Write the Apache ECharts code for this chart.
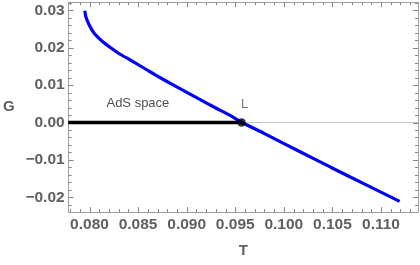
<!DOCTYPE html>
<html>
<head>
<meta charset="utf-8">
<script src="https://cdn.jsdelivr.net/npm/echarts@6/dist/echarts.min.js"></script>
<style>
html,body{margin:0;padding:0;background:#fff;}
#chart{width:420px;height:265px;}
</style>
</head>
<body>
<div id="chart"></div>
<script>
// ---- data ----
const blueT = [0.07952,0.07962,0.07997,0.08048,0.08133,0.08218,0.08320,0.08439,0.08610,0.08779,0.08950,0.09121,0.09290,0.09461,0.09570,0.09801,0.10142,0.10482,0.10822,0.11192];
const blueG = [0.02989,0.02829,0.02607,0.02385,0.02166,0.02000,0.01818,0.01644,0.01377,0.01123,0.00877,0.00636,0.00401,0.00168,0.0,-0.00297,-0.00749,-0.01195,-0.01636,-0.02110];
const adsT = [0.0778, 0.09565];
const adsG = [0, 0];
const pointL = [0.09565, 0];
const labelL = 'L';
const adsText = 'AdS space';
const adsTextPos = [0.08498, 0.0051];
const xMajor = [0.080,0.085,0.090,0.095,0.100,0.105,0.110];
const yMajor = [-0.02,-0.01,0.00,0.01,0.02,0.03];
const xRange = [0.077855, 0.11381];
const yRange = [-0.02393, 0.032219];

// minor ticks (every 0.001 on T, 0.002 on G), excluding majors
const xMinor = [];
for (let i = 78; i <= 113; i++) { if (i % 5 !== 0) xMinor.push(i / 1000); }
const yMinor = [];
for (let i = -22; i <= 32; i += 2) { if (i % 10 !== 0) yMinor.push(i / 1000); }

const frameColor = '#a0a0a0';
const tickColor = '#888888';
const labelColor = '#5f5f5f';
const fontFam = 'Liberation Sans, Arial, sans-serif';

function xAx(pos, labels) {
  return {
    type: 'value', position: pos, min: xRange[0], max: xRange[1],
    axisLine: {show: true, onZero: false, lineStyle: {color: frameColor, width: 1}},
    axisTick: {show: false},
    axisLabel: labels ? {show: true, customValues: xMajor, formatter: v => v.toFixed(3), color: labelColor, fontSize: 15.5, fontWeight: 'bold', fontFamily: fontFam, margin: 5} : {show: false},
    splitLine: {show: false},
    name: labels ? 'T' : '', nameLocation: 'middle', nameGap: 31,
    nameTextStyle: {color: labelColor, fontSize: 15, fontWeight: 'bold', fontFamily: fontFam}
  };
}
function yAx(pos, labels) {
  return {
    type: 'value', position: pos, min: yRange[0], max: yRange[1],
    axisLine: {show: true, onZero: false, lineStyle: {color: frameColor, width: 1}},
    axisTick: {show: false},
    axisLabel: labels ? {show: true, customValues: yMajor, formatter: v => (v < -1e-9 ? '\u2212' : '') + Math.abs(v).toFixed(2), color: labelColor, fontSize: 15.5, fontWeight: 'bold', fontFamily: fontFam, margin: 4} : {show: false},
    splitLine: {show: false},
    name: labels ? 'G' : '', nameLocation: 'middle', nameGap: 54, nameRotate: 0,
    nameTextStyle: {color: labelColor, fontSize: 15, fontWeight: 'bold', fontFamily: fontFam}
  };
}

// frame ticks drawn through the axis scales (api.coord)
function tickSeries(values, len, isX) {
  return {
    type: 'custom', silent: true, clip: false, z: 1,
    data: values.map(v => isX ? [v, yRange[0]] : [xRange[0], v]),
    renderItem: function (params, api) {
      const v = isX ? api.value(0) : api.value(1);
      const c = [];
      const st = {stroke: tickColor, lineWidth: 1};
      if (isX) {
        const b = api.coord([v, yRange[0]]), t = api.coord([v, yRange[1]]);
        const x = Math.round(b[0]) + 0.5;
        c.push({type: 'line', shape: {x1: x, y1: b[1], x2: x, y2: b[1] - len}, style: st});
        c.push({type: 'line', shape: {x1: x, y1: t[1], x2: x, y2: t[1] + len}, style: st});
      } else {
        const l = api.coord([xRange[0], v]), r = api.coord([xRange[1], v]);
        const y = Math.round(l[1]) + 0.5;
        c.push({type: 'line', shape: {x1: l[0], y1: y, x2: l[0] + len, y2: y}, style: st});
        c.push({type: 'line', shape: {x1: r[0], y1: y, x2: r[0] - len, y2: y}, style: st});
      }
      return {type: 'group', children: c};
    }
  };
}

const chart = echarts.init(document.getElementById('chart'), null, {renderer: 'canvas'});
chart.setOption({
  animation: false,
  backgroundColor: '#fff',
  grid: {left: 66, right: 2, top: 2, bottom: 53},
  xAxis: [xAx('bottom', true), xAx('top', false)],
  yAxis: [yAx('left', true), yAx('right', false)],
  series: [
    tickSeries(xMajor, 5, true), tickSeries(xMinor, 3, true),
    tickSeries(yMajor, 5, false), tickSeries(yMinor, 3, false),
    {type: 'line', data: [[xRange[0], 0], [xRange[1], 0]], symbol: 'none', lineStyle: {color: '#c4c4c4', width: 1}, z: 2, silent: true},
    {type: 'line', data: adsT.map((t, i) => [t, adsG[i]]), symbol: 'none', lineStyle: {color: '#000', width: 3.6}, z: 3},
    {type: 'line', data: blueT.map((t, i) => [t, blueG[i]]), symbol: 'none', smooth: 0.2, lineStyle: {color: '#0000ff', width: 3.2}, z: 4},
    {type: 'scatter', data: [pointL], symbolSize: 8.5, itemStyle: {color: '#000'}, z: 5,
     label: {show: true, formatter: labelL, position: 'top', distance: 7, offset: [3, 0], color: '#555', fontSize: 13, fontFamily: fontFam}},
    {type: 'scatter', data: [adsTextPos], symbolSize: 0, z: 6,
     label: {show: true, formatter: adsText, position: 'inside', color: '#222', fontSize: 13, fontFamily: fontFam}}
  ]
});
</script>
</body>
</html>
